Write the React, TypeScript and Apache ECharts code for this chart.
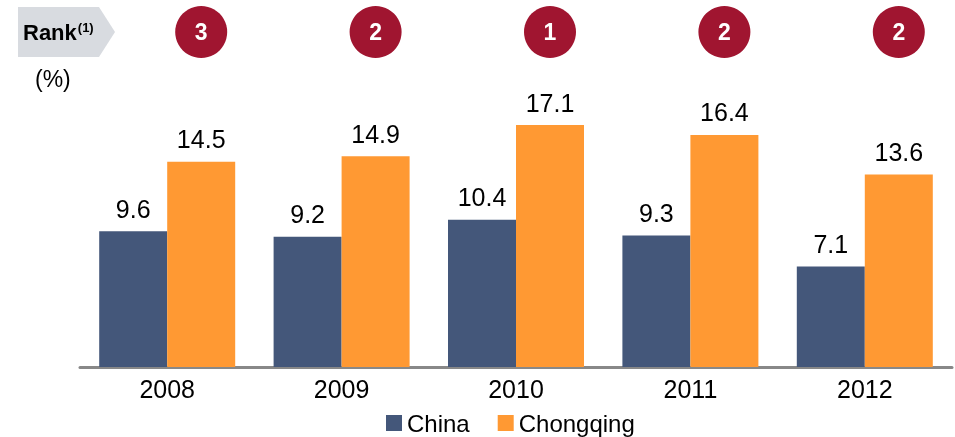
import React, { useEffect, useRef } from "react";
import * as echarts from "echarts";

const years = ["2008", "2009", "2010", "2011", "2012"];
const china = [9.6, 9.2, 10.4, 9.3, 7.1];
const chongqing = [14.5, 14.9, 17.1, 16.4, 13.6];
const ranks = [3, 2, 1, 2, 2];

const FONT = "'Liberation Sans', Arial, sans-serif";
const BAR_W = 68;

export default function App() {
  const ref = useRef<HTMLDivElement>(null);
  useEffect(() => {
    const chart = echarts.init(ref.current!, null, { renderer: "svg" });
    chart.setOption({
      animation: false,
      textStyle: { fontFamily: FONT },
      grid: [
        { left: 80, right: 3, top: 84, bottom: 70 },
        { left: 80, right: 3, top: 6, height: 52 },
      ],
      xAxis: [
        {
          type: "category",
          data: years,
          gridIndex: 0,
          axisLine: { lineStyle: { color: "#888888", width: 3 } },
          axisTick: { show: false },
          axisLabel: { color: "#000", fontSize: 25, margin: 9, fontFamily: FONT },
        },
        { type: "category", data: years, gridIndex: 1, show: false },
      ],
      yAxis: [
        { type: "value", min: 0, max: 20, gridIndex: 0, show: false, splitLine: { show: false } },
        { type: "value", min: 0, max: 1, gridIndex: 1, show: false, splitLine: { show: false } },
      ],
      legend: {
        left: 386,
        top: 411,
        padding: 0,
        itemWidth: 16,
        itemHeight: 16,
        itemGap: 28,
        icon: "rect",
        textStyle: { fontSize: 24, color: "#000", fontFamily: FONT },
        data: ["China", "Chongqing"],
      },
      series: [
        {
          name: "China",
          type: "bar",
          data: china,
          barWidth: BAR_W,
          barGap: "0%",
          itemStyle: { color: "#44577A" },
          label: { show: true, position: "top", distance: 10, fontSize: 25, color: "#000", fontFamily: FONT },
        },
        {
          name: "Chongqing",
          type: "bar",
          data: chongqing,
          barWidth: BAR_W,
          barGap: "0%",
          itemStyle: { color: "#FF9933" },
          label: { show: true, position: "top", distance: 10, fontSize: 25, color: "#000", fontFamily: FONT },
        },
        {
          name: "Rank",
          type: "scatter",
          xAxisIndex: 1,
          yAxisIndex: 1,
          data: ranks.map(() => 0.5),
          symbol: "circle",
          symbolSize: 52,
          symbolOffset: [BAR_W / 2, 0],
          itemStyle: { color: "#A01530", opacity: 1 },
          label: {
            show: true,
            position: "inside",
            formatter: (p: any) => String(ranks[p.dataIndex]),
            color: "#fff",
            fontSize: 23,
            fontWeight: "bold",
            fontFamily: FONT,
          },
          emphasis: { disabled: true },
        },
      ],
      graphic: [
        {
          type: "polygon",
          shape: { points: [[18, 7], [99, 7], [115, 32], [99, 57], [18, 57]] },
          style: { fill: "#D8DBE0" },
        },
        {
          type: "text",
          x: 23,
          y: 32,
          style: {
            text: "{a|Rank}{b|(1)}",
            verticalAlign: "middle",
            rich: {
              a: { fontSize: 22, fontWeight: "bold", fill: "#000", fontFamily: FONT },
              b: { fontSize: 13, fontWeight: "bold", fill: "#000", fontFamily: FONT, verticalAlign: "top", padding: [0, 0, 10, 1] },
            },
          },
        },
        {
          type: "text",
          x: 35,
          y: 79,
          style: { text: "(%)", fontSize: 23, fill: "#000", fontFamily: FONT, verticalAlign: "middle" },
        },
      ],
    });
    return () => chart.dispose();
  }, []);
  return <div ref={ref} style={{ position: "fixed", left: 0, top: 0, width: 955, height: 437 }} />;
}
